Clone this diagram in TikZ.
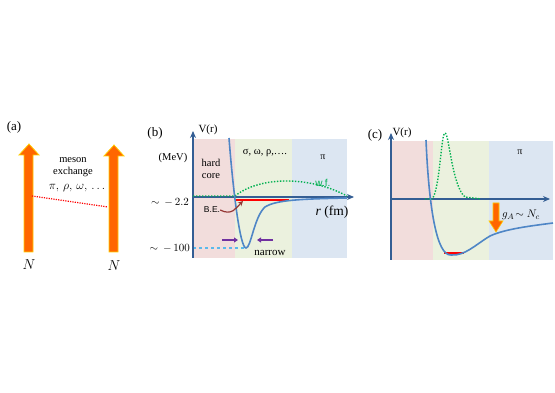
\documentclass[tikz,border=0pt]{standalone}
\usepackage{fontspec}
\setmainfont{Liberation Serif}
\newfontfamily\tagsans{Liberation Sans}
\usetikzlibrary{arrows.meta,positioning}

\definecolor{corepink}{RGB}{242,221,220}
\definecolor{midgreen}{RGB}{235,241,222}
\definecolor{farblue}{RGB}{220,230,242}
\definecolor{axisblue}{RGB}{52,94,148}
\definecolor{curveblue}{RGB}{79,134,198}
\definecolor{nucorange}{RGB}{255,102,0}
\definecolor{nucyellow}{RGB}{255,204,0}
\definecolor{wfgreen}{RGB}{0,176,80}
\definecolor{squeeze}{RGB}{112,48,160}
\definecolor{bearrow}{RGB}{149,55,53}
\definecolor{depthcyan}{RGB}{91,185,235}

\begin{document}
\begin{tikzpicture}[x=1pt, y=-1pt,
  lbl/.style={font=\fontsize{10.5}{12}\selectfont, inner sep=0pt},
  tag/.style={font=\fontsize{13}{14}\selectfont, inner sep=0pt},
  small/.style={font=\fontsize{10}{11}\selectfont, inner sep=0pt},
  nuc/.style={fill=nucorange, draw=nucyellow, line width=0.8pt},
  axis/.style={draw=axisblue, line width=1.3pt, -{Stealth[length=7pt,width=6pt]}},
  pot/.style={draw=curveblue, line width=1.6pt},
  wf/.style={draw=wfgreen, line width=1.4pt, dash pattern=on 1.4pt off 1.6pt},
  level/.style={draw=red, line width=1.8pt},
  push/.style={draw=squeeze, line width=1.6pt, -{Triangle[length=4pt,width=5pt]}}
]
\useasboundingbox (0,0) rectangle (555,393);

% (a) two nucleons
\node[tag] (a-tag) at (14,127) {(a)};
\filldraw[nuc] (24,252) -- (24,155) -- (19,155) -- (29,144) -- (39,155) -- (33,155) -- (33,252) -- cycle;
\filldraw[nuc] (109,252) -- (109,156) -- (104,156) -- (114,145) -- (124,156) -- (118,156) -- (118,252) -- cycle;
\coordinate (hit-left) at (32,196);
\coordinate (hit-right) at (108,207);
\draw[red, line width=1.2pt, dash pattern=on 1.2pt off 1.2pt] (hit-left) -- (hit-right);
\node[lbl] (meson) at (73,160) {meson};
\node[lbl] (exchange) at (73,172) {exchange};
\node[font=\fontsize{12}{14}\selectfont, inner sep=0pt] (mesons) at (77,188) {$\pi,\,\rho,\,\omega,\,\ldots$};
\node[font=\fontsize{15}{16}\selectfont, inner sep=0pt] (n-left) at (29,265) {$N$};
\node[font=\fontsize{15}{16}\selectfont, inner sep=0pt] (n-right) at (114,266) {$N$};

% (b) deuteron-like potential
\fill[corepink] (193,139) rectangle (235,258);
\fill[midgreen] (235,139) rectangle (292,258);
\fill[farblue] (292,139) rectangle (347,258);
\draw[depthcyan, line width=1.2pt, dashed] (193,248) -- (246,248);
\draw[axis] (193,258) -- (193,131);
\draw[axis, line width=2pt] (193,197) -- (354,197);
\draw[wf] (193,196) -- (235,196) .. controls (260,176) and (310,176) .. (347,196);
\draw[level] (235,200) -- (289,200);
\draw[pot] (229,138) .. controls (233,190) and (240,248) .. (246,248)
  .. controls (251,248) and (254,217) .. (265,207)
  .. controls (276,200) and (300,199) .. (347,198);
\node[tag] (b-tag) at (155,133) {(b)};
\node[lbl, font=\fontsize{11}{12}\selectfont] (b-vr) at (208,130) {V(r)};
\node[lbl] (mev) at (173,158) {(MeV)};
\node[lbl, align=center] (core) at (211,169) {hard\\core};
\node[lbl] (heavy) at (265,153) {σ, ω, ρ,….};
\node[small] (b-pi) at (323,157) {π};
\node[font=\tagsans\fontsize{10}{11}\selectfont, text=wfgreen, inner sep=0pt] (wf-tag) at (323,183) {w.f.};
\node[lbl, anchor=east] (shallow) at (189,202) {$\sim\,-\,2.2$};
\node[lbl, anchor=east] (deep) at (190,248) {$\sim\,-\,100$};
\node[font=\tagsans\fontsize{8.5}{10}\selectfont, inner sep=0pt] (be) at (212,210) {B.E.};
\coordinate (be-tip) at (243,201);
\draw[bearrow, line width=1.2pt, -{Stealth[length=5pt,width=5pt]}] (be.east) .. controls (232,216) and (236,208) .. (be-tip);
\coordinate (push-l) at (222,240);
\coordinate (push-l-end) at (238,240);
\coordinate (push-r) at (273,240);
\coordinate (push-r-end) at (257,240);
\draw[push] (push-l) -- (push-l-end);
\draw[push] (push-r) -- (push-r-end);
\node[lbl, font=\fontsize{11}{12}\selectfont] (narrow) at (270,253) {narrow};
\node[inner sep=0pt, font=\fontsize{13.5}{14}\selectfont] (b-rfm) at (332,212) {\textit{r} (fm)};

% (c) deep and wide well
\fill[corepink] (391,141) rectangle (433,260);
\fill[midgreen] (433,141) rectangle (489,260);
\fill[farblue] (489,141) rectangle (553,260);
\draw[axis] (391,260) -- (391,133);
\draw[axis, line width=2pt] (391,199) -- (550,199);
\draw[wf] (425,199) -- (432,199) .. controls (440,190) and (441,133) .. (445,133)
  .. controls (449,133) and (452,186) .. (465,197) -- (481,199);
\draw[level] (444,253) -- (464,253);
\draw[pot] (426,140) .. controls (429,210) and (437,256) .. (451,255)
  .. controls (465,256) and (475,245) .. (490,236)
  .. controls (505,229) and (530,226) .. (553,223);
\filldraw[nuc, line width=0.6pt] (493,203) -- (499,203) -- (499,221) -- (503,221) -- (496,232) -- (489,221) -- (493,221) -- cycle;
\node[tag] (c-tag) at (375,135) {(c)};
\node[lbl, font=\fontsize{11}{12}\selectfont] (c-vr) at (402,133) {V(r)};
\node[small] (c-pi) at (520,152) {π};
\node[inner sep=0pt, font=\fontsize{11}{12}\selectfont] (coupling) at (521,215) {$g_A\!\sim N_c$};
\end{tikzpicture}
\end{document}
